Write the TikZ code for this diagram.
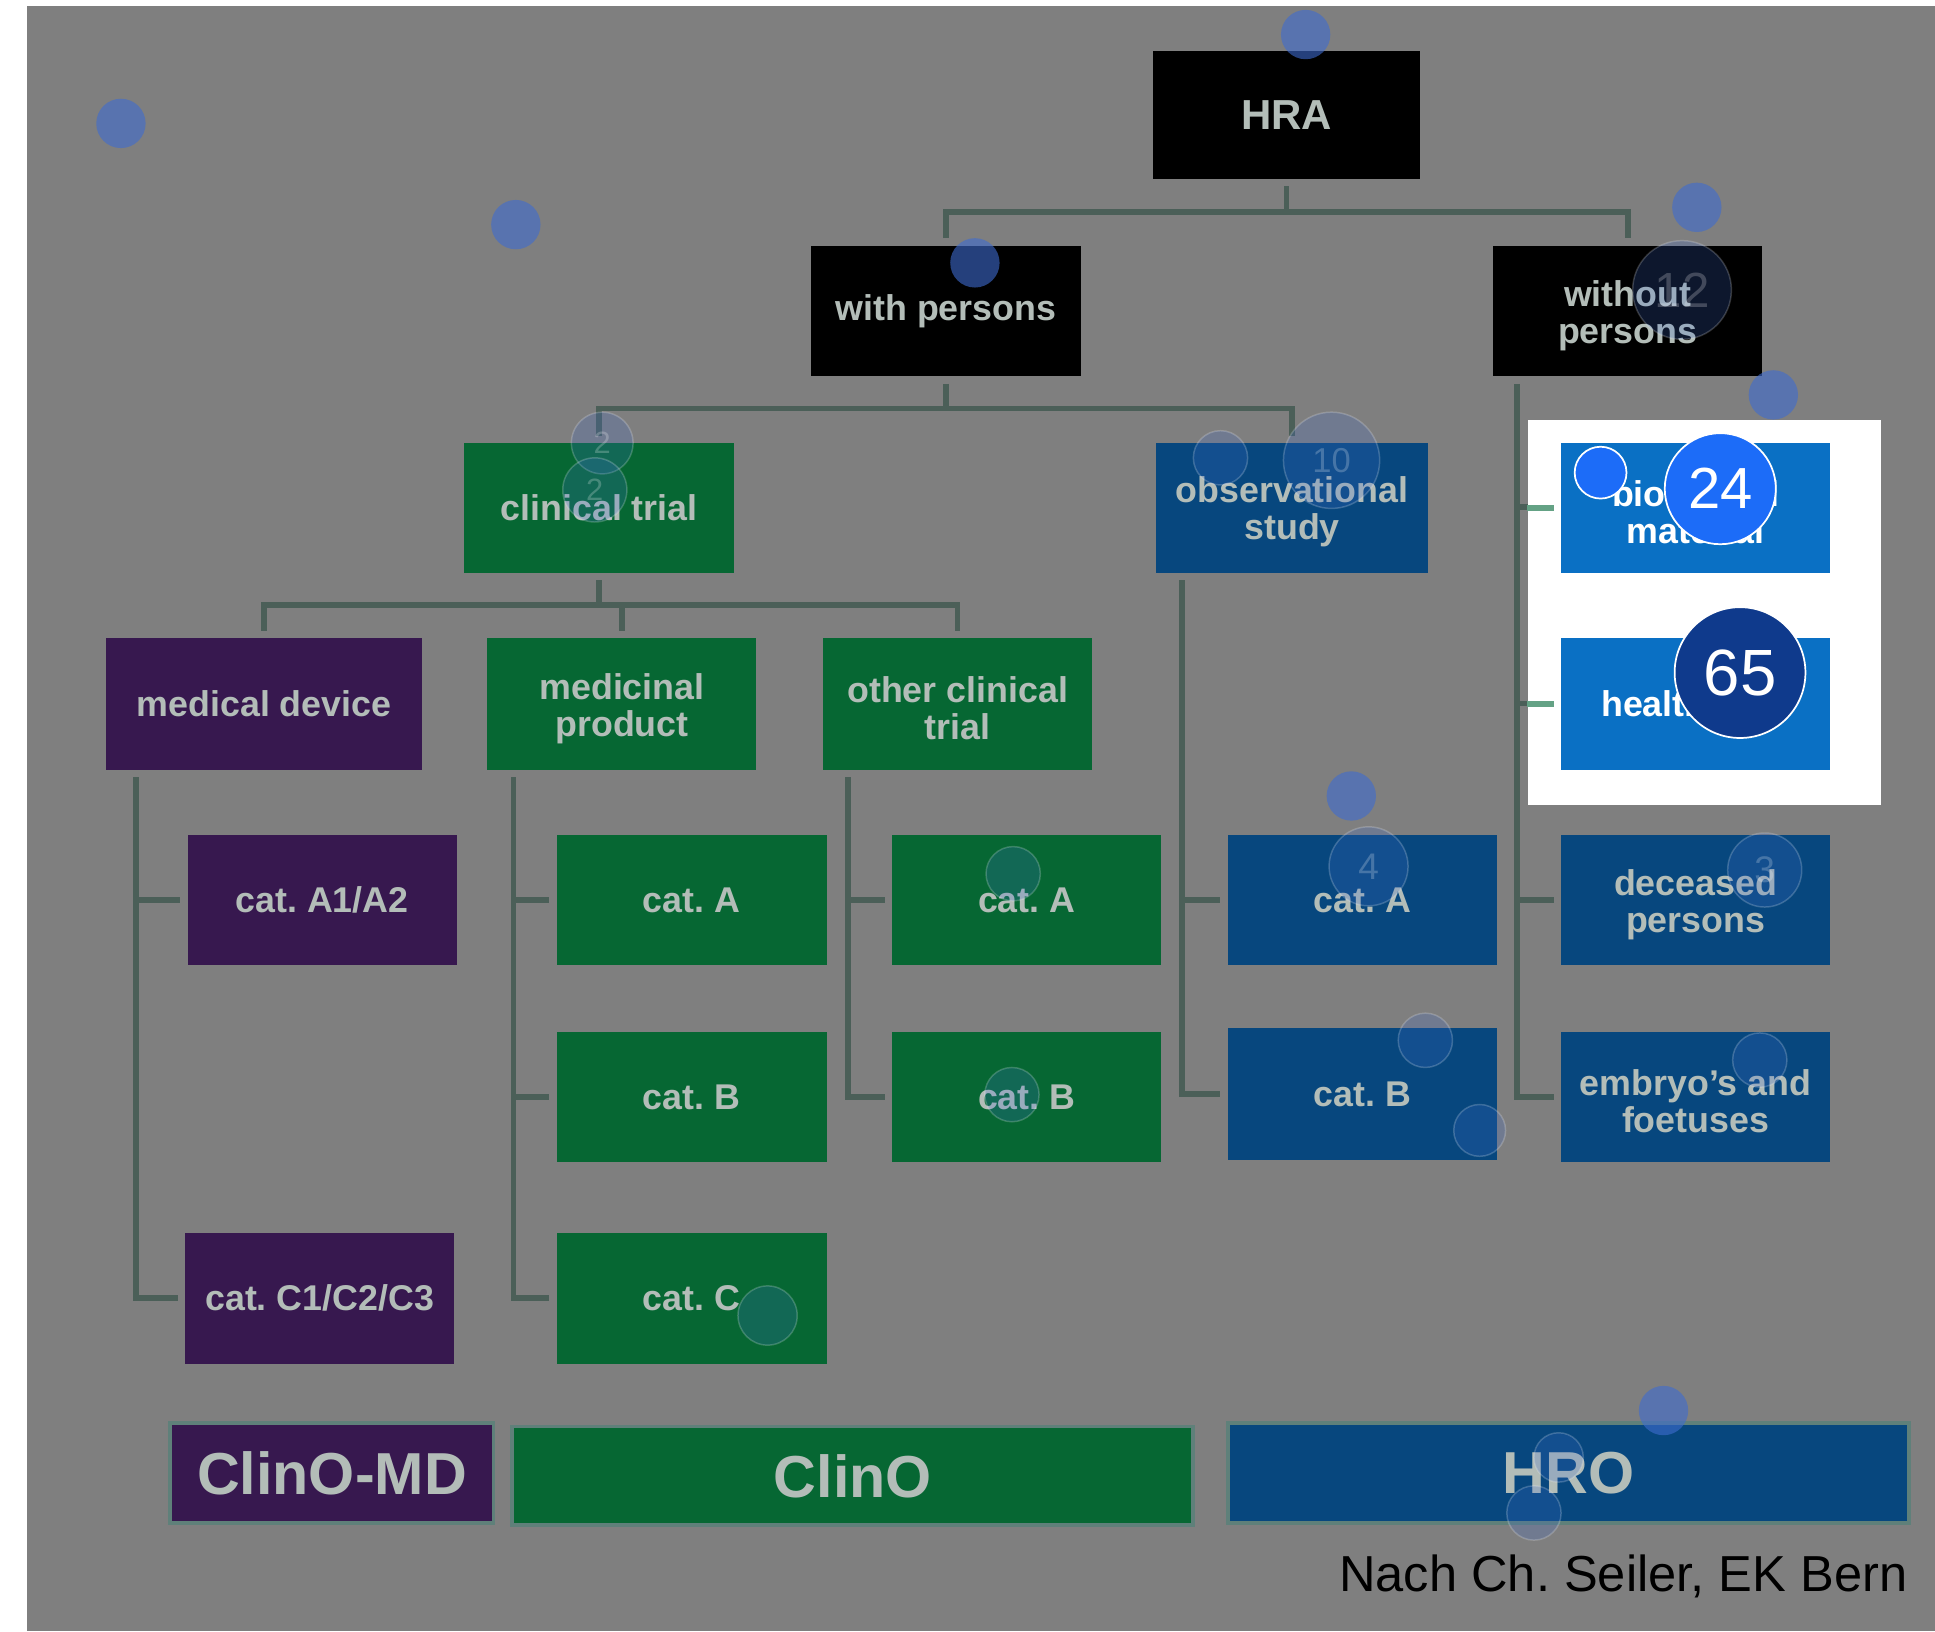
\documentclass[tikz,border=0pt]{standalone}
\usepackage{fontspec}
\setmainfont{Liberation Sans}
\usetikzlibrary{calc}
\frenchspacing
\definecolor{bggray}{HTML}{7F7F7F}
\definecolor{dgreen}{HTML}{066733}
\definecolor{dpurple}{HTML}{37184F}
\definecolor{dblue}{HTML}{07477E}
\definecolor{bblue}{HTML}{0A70C4}
\definecolor{conc}{HTML}{4B5F58}
\definecolor{brconc}{HTML}{64A285}
\definecolor{dtext}{HTML}{B3BDB8}
\definecolor{dotc}{HTML}{3E6CCF}
\definecolor{cxxiv}{HTML}{1C6CF8}
\definecolor{clxv}{HTML}{0F3A8C}
\definecolor{barline}{HTML}{5F807A}
\newcommand\bx[8]{\node[box,fill=#6,text=#7,minimum width={(#4-#2)*0.5pt},minimum height={(#5-#3)*0.5pt}] (#1) at ({(#2+#4)/2},{(#3+#5)/2}) {#8};}
\tikzset{
 box/.style={rectangle, inner sep=0pt, outer sep=0pt, align=center, font=\fontsize{14.5}{15}\selectfont\bfseries\frenchspacing, text=dtext},
 conn/.style={draw=conc, line width=2.3pt},
 gap/.style={shorten <=3pt, shorten >=3pt},
 gapend/.style={shorten >=3pt},
 dot/.style={circle, fill=dotc, fill opacity=0.6, draw=none, inner sep=0pt},
 ring/.style={circle, fill=dotc, fill opacity=0.22, draw=white, draw opacity=0.2, line width=0.6pt, inner sep=0pt, text opacity=0.22, text=white, font=\fontsize{14}{14}\selectfont},
 bar/.style={rectangle, inner sep=0pt, draw=barline, line width=1.5pt, text=dtext, font=\fontsize{24}{24}\selectfont\bfseries},
}
\begin{document}
\begin{tikzpicture}[x=0.5pt,y=-0.5pt]
\useasboundingbox (0,0) rectangle (1568,1322);
\fill[white] (0,0) rectangle (1568,1322);
\fill[bggray] (22,5) rectangle (1568,1322);

% dimmed boxes
\bx{hra}{934}{41}{1151}{145}{black}{dtext}{\fontsize{17}{17}\selectfont HRA}
\bx{wp}{657}{199}{876}{305}{black}{dtext}{with persons}
\bx{wop}{1210}{199}{1428}{305}{black}{dtext}{\rule{0pt}{14pt}without\\persons}
\bx{ct}{376}{359}{595}{464}{dgreen}{dtext}{clinical trial}
\bx{obs}{937}{359}{1157}{464}{dblue}{dtext}{\rule{0pt}{14pt}observational\\study}
\bx{md}{86}{517}{342}{624}{dpurple}{dtext}{medical device}
\bx{mp}{395}{517}{613}{624}{dgreen}{dtext}{\rule{0pt}{14pt}medicinal\\product}
\bx{oct}{667}{517}{885}{624}{dgreen}{dtext}{\rule{0pt}{14pt}other clinical\\trial}
\bx{aa}{152}{677}{370}{782}{dpurple}{dtext}{cat. A1/A2}
\bx{cc}{150}{999}{368}{1105}{dpurple}{dtext}{cat. C1/C2/C3}
\bx{mpa}{451}{677}{670}{782}{dgreen}{dtext}{cat. A}
\bx{mpb}{451}{836}{670}{942}{dgreen}{dtext}{cat. B}
\bx{mpc}{451}{999}{670}{1105}{dgreen}{dtext}{cat. C}
\bx{oca}{723}{677}{941}{782}{dgreen}{dtext}{cat. A}
\bx{ocb}{723}{836}{941}{942}{dgreen}{dtext}{cat. B}
\bx{oba}{995}{677}{1213}{782}{dblue}{dtext}{cat. A}
\bx{obb}{995}{833}{1213}{940}{dblue}{dtext}{cat. B}
\bx{dec}{1265}{677}{1483}{782}{dblue}{dtext}{\rule{0pt}{14pt}deceased\\persons}
\bx{emb}{1265}{836}{1483}{942}{dblue}{dtext}{\rule{0pt}{14pt}embryo’s and\\foetuses}

% connectors
\draw[conn,gap] (wp.north) |- (hra.south |- 0,172) -| (wop.north);
\draw[conn,shorten <=3pt] (hra.south) -- (hra.south |- 0,172);
\draw[conn,gap] (ct.north) |- (wp.south |- 0,331) -| (obs.north);
\draw[conn,shorten <=3pt] (wp.south) -- (wp.south |- 0,331);
\draw[conn,gap] (md.north) |- (ct.south |- 0,490) -| (oct.north);
\draw[conn,shorten >=3pt] (mp.north |- 0,490) -- (mp.north);
\draw[conn,shorten <=3pt] (ct.south) -- (ct.south |- 0,490);

\coordinate (vmd) at ($(md.south west)+(24,0)$);
\coordinate (vmp) at ($(mp.south west)+(21,0)$);
\coordinate (voc) at ($(oct.south west)+(20,0)$);
\coordinate (vob) at ($(obs.south west)+(21,0)$);
\coordinate (vwo) at ($(wop.south west)+(19,0)$);
\draw[conn,gap] (vmd) |- (cc.west);
\draw[conn,gapend] (aa.west -| vmd) -- (aa.west);
\draw[conn,gap] (vmp) |- (mpc.west);
\draw[conn,gapend] (mpa.west -| vmp) -- (mpa.west);
\draw[conn,gapend] (mpb.west -| vmp) -- (mpb.west);
\draw[conn,gap] (voc) |- (ocb.west);
\draw[conn,gapend] (oca.west -| voc) -- (oca.west);
\draw[conn,gap] (vob) |- (obb.west);
\draw[conn,gapend] (oba.west -| vob) -- (oba.west);
\draw[conn,gap] (vwo) |- (emb.west);
\draw[conn,gapend] (dec.west -| vwo) -- (dec.west);
\draw[conn] (vwo |- 0,411) -- (1240,411);
\draw[conn] (vwo |- 0,570) -- (1240,570);

% highlight
\node[rectangle, fill=white, inner sep=0pt, minimum width=143pt, minimum height=156pt] (hl) at (1381,496) {};
\bx{bio}{1265}{359}{1483}{464}{bblue}{white}{\rule{0pt}{14pt}biological\\material}
\bx{hrd}{1265}{517}{1483}{624}{bblue}{white}{health data}
\draw[draw=brconc, line width=2.3pt, shorten >=3pt] (bio.west -| hl.west) -- (bio.west);
\draw[draw=brconc, line width=2.3pt, shorten >=3pt] (hrd.west -| hl.west) -- (hrd.west);

% bottom bars
\node[bar, fill=dpurple, minimum width=131pt, minimum height=40.5pt] (bmd) at (269,1193.5) {ClinO-MD};
\node[bar, fill=dgreen, minimum width=276pt, minimum height=40pt] (bcl) at (691,1196) {ClinO};
\node[bar, fill=dblue, minimum width=276pt, minimum height=40.5pt] (bhro) at (1271,1193.5) {HRO};
\node[anchor=east, inner sep=0pt, font=\fontsize{20.5}{20.5}\selectfont\frenchspacing, text=black] (src) at (1546,1277) {Nach Ch. Seiler, EK Bern};

% overlay dots
\node[dot, minimum size=20pt] (d1) at (98,100) {};
\node[dot, minimum size=20pt] (d2) at (418,182) {};
\node[dot, minimum size=20pt] (d3) at (1058,28) {};
\node[dot, minimum size=20pt] (d4) at (790,213) {};
\node[dot, minimum size=20pt] (d5) at (1375,168) {};
\node[dot, minimum size=20pt] (d6) at (1437,320) {};
\node[dot, minimum size=20pt] (d7) at (1095,645) {};
\node[dot, minimum size=20pt] (d8) at (1348,1143) {};
\node[ring, minimum size=40pt, font=\fontsize{20}{20}\selectfont] (r12) at (1363,235) {12};
\node[ring, minimum size=25pt, font=\fontsize{12.5}{12.5}\selectfont] (r2a) at (488,359) {2};
\node[ring, minimum size=26pt, font=\fontsize{12.5}{12.5}\selectfont] (r2b) at (482,397) {2};
\node[ring, minimum size=22pt] (r5) at (989,371) {};
\node[ring, minimum size=39pt, font=\fontsize{14}{14}\selectfont] (r10) at (1079,373) {10};
\node[ring, minimum size=32pt, font=\fontsize{15}{15}\selectfont] (r4) at (1109,702) {4};
\node[ring, minimum size=30pt, font=\fontsize{15}{15}\selectfont] (r3) at (1430,705) {3};
\node[ring, minimum size=22pt] (r6) at (821,708) {};
\node[ring, minimum size=22pt] (r7) at (820,887) {};
\node[ring, minimum size=24pt] (r8) at (622,1066) {};
\node[ring, minimum size=22pt] (r9) at (1155,843) {};
\node[ring, minimum size=21pt] (r11) at (1199,916) {};
\node[ring, minimum size=22pt] (r13) at (1426,859) {};
\node[ring, minimum size=20pt] (r14) at (1263,1181) {};
\node[ring, minimum size=22pt] (r15) at (1243,1226) {};

% bright dots
\node[circle, fill=cxxiv, draw=white, line width=0.7pt, inner sep=0pt, minimum size=21pt] (b1) at (1297,383) {};
\node[circle, fill=cxxiv, draw=white, line width=0.7pt, inner sep=0pt, minimum size=45pt, text=white, font=\fontsize{23.5}{23.5}\selectfont] (b24) at (1394,396) {24};
\node[circle, fill=clxv, draw=white, line width=0.7pt, inner sep=0pt, minimum size=53pt, text=white, font=\fontsize{26.5}{26.5}\selectfont] (b65) at (1410,545) {65};
\end{tikzpicture}
\end{document}
